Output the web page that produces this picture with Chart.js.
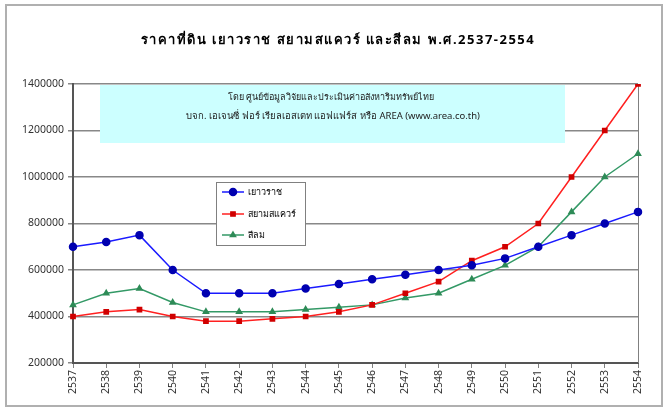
<!DOCTYPE html>
<html>
<head>
<meta charset="utf-8">
<script src="https://cdn.jsdelivr.net/npm/chart.js@4/dist/chart.umd.min.js"></script>
<style>
  html, body { margin: 0; padding: 0; background: #fff; }
  #wrap { width: 665px; height: 409px; }
</style>
</head>
<body>
<div id="wrap"><canvas id="landChart"></canvas></div>
<script>
// years (Thai Buddhist era)
var years = ['2537', '2538', '2539', '2540', '2541', '2542', '2543', '2544', '2545',
             '2546', '2547', '2548', '2549', '2550', '2551', '2552', '2553', '2554'];

// land price, baht per square wah
var yaowarat = [700000, 720000, 750000, 600000, 500000, 500000, 500000, 520000, 540000,
                560000, 580000, 600000, 620000, 650000, 700000, 750000, 800000, 850000];
var siamSquare = [400000, 420000, 430000, 400000, 380000, 380000, 390000, 400000, 420000,
                  450000, 500000, 550000, 640000, 700000, 800000, 1000000, 1200000, 1400000];
var silom = [450000, 500000, 520000, 460000, 420000, 420000, 420000, 430000, 440000,
             450000, 480000, 500000, 560000, 620000, 700000, 850000, 1000000, 1100000];

var seriesNames = ['เยาวราช', 'สยามสแควร์', 'สีลม'];
var yTicks = [200000, 400000, 600000, 800000, 1000000, 1200000, 1400000];

var chartTitle = 'ราคาที่ดิน เยาวราช สยามสแควร์ และสีลม พ.ศ.2537-2554';
var noteLines = [
    'โดย ศูนย์ข้อมูลวิจัยและประเมินค่าอสังหาริมทรัพย์ไทย',
    'บจก. เอเจนซี่ ฟอร์ เรียลเอสเตท แอฟแฟร์ส หรือ AREA (www.area.co.th)'
];

var fontFamily = '"Noto Sans", "DejaVu Sans", sans-serif';

// title, source note, frame and legend drawn on the canvas
var decorations = {
    id: 'decorations',
    beforeDatasetsDraw: function(chart) {
        var ctx = chart.ctx;
        var area = chart.chartArea;
        ctx.save();
        // outer frame
        ctx.strokeStyle = '#b0b0b0';
        ctx.lineWidth = 2;
        ctx.strokeRect(6, 5, 656, 401);
        // right border of plot
        ctx.strokeStyle = '#808080';
        ctx.lineWidth = 1;
        ctx.beginPath();
        ctx.moveTo(area.right + 0.5, area.top);
        ctx.lineTo(area.right + 0.5, area.bottom);
        ctx.stroke();
        // title
        ctx.fillStyle = '#000';
        ctx.font = 'bold 13px ' + fontFamily;
        ctx.letterSpacing = '1.5px';
        ctx.textAlign = 'center';
        ctx.textBaseline = 'middle';
        ctx.fillText(chartTitle, 338, 40);
        ctx.letterSpacing = '0px';
        // source note box
        ctx.fillStyle = '#ccffff';
        ctx.fillRect(100, area.top + 1, 465, 58);
        ctx.fillStyle = '#222';
        ctx.font = '9px ' + fontFamily;
        ctx.fillText(noteLines[0], 331, 97);
        ctx.font = '9.5px ' + fontFamily;
        ctx.fillText(noteLines[1], 333, 116);
        ctx.restore();
    },
    afterDraw: function(chart) {
        var ctx = chart.ctx;
        ctx.save();
        // legend box
        ctx.fillStyle = '#fff';
        ctx.fillRect(216, 182, 89, 63);
        ctx.strokeStyle = '#808080';
        ctx.lineWidth = 1;
        ctx.strokeRect(216.5, 182.5, 89, 63);
        var rows = [192, 214, 235];
        chart.data.datasets.forEach(function(ds, i) {
            var y = rows[i];
            ctx.strokeStyle = ds.borderColor;
            ctx.lineWidth = 1.5;
            ctx.beginPath();
            ctx.moveTo(222, y);
            ctx.lineTo(244, y);
            ctx.stroke();
            ctx.fillStyle = ds.pointBackgroundColor;
            ctx.strokeStyle = ds.pointBorderColor;
            Chart.helpers.drawPoint(ctx, {
                pointStyle: ds.pointStyle,
                radius: ds.pointRadius,
                rotation: 0,
                borderWidth: 1
            }, 233, y);
            ctx.fillStyle = '#000';
            ctx.font = '9px ' + fontFamily;
            ctx.textAlign = 'left';
            ctx.textBaseline = 'middle';
            ctx.fillText(ds.label, 248, y);
        });
        ctx.restore();
    }
};

var ctx = document.getElementById('landChart');
var landChart = new Chart(ctx, {
    type: 'line',
    data: {
        labels: years,
        datasets: [{
            label: seriesNames[0],
            data: yaowarat,
            borderColor: '#1a1aff',
            backgroundColor: '#0000b0',
            pointBackgroundColor: '#0000b0',
            pointBorderColor: '#0000b0',
            pointStyle: 'circle',
            pointRadius: 3.5,
            borderWidth: 1.5
        }, {
            label: seriesNames[1],
            data: siamSquare,
            borderColor: '#ff2020',
            backgroundColor: '#d00000',
            pointBackgroundColor: '#d00000',
            pointBorderColor: '#d00000',
            pointStyle: 'rect',
            pointRadius: 3,
            borderWidth: 1.5
        }, {
            label: seriesNames[2],
            data: silom,
            borderColor: '#339966',
            backgroundColor: '#2e8b57',
            pointBackgroundColor: '#2e8b57',
            pointBorderColor: '#2e8b57',
            pointStyle: 'triangle',
            pointRadius: 3,
            borderWidth: 1.5
        }]
    },
    options: {
        responsive: true,
        maintainAspectRatio: false,
        animation: false,
        layout: { padding: { top: 84, right: 27, bottom: 0, left: 0 } },
        plugins: {
            legend: { display: false },
            title: { display: false },
            tooltip: { enabled: false }
        },
        elements: { line: { tension: 0 } },
        scales: {
            x: {
                offset: false,
                grid: { drawOnChartArea: false, drawTicks: true, tickLength: 5, color: '#808080' },
                border: { color: '#555', width: 2 },
                ticks: {
                    minRotation: 90,
                    maxRotation: 90,
                    color: '#333',
                    font: { size: 10.5, family: fontFamily },
                    padding: 2
                },
                afterFit: function(scale) { scale.height = 46; }
            },
            y: {
                min: 200000,
                max: 1400000,
                afterBuildTicks: function(scale) {
                    scale.ticks = yTicks.map(function(v) { return { value: v }; });
                },
                grid: { color: '#888', lineWidth: 1.5, tickLength: 5 },
                border: { color: '#555', width: 2 },
                ticks: {
                    color: '#333',
                    font: { size: 10.5, family: fontFamily },
                    padding: 4,
                    callback: function(v) { return String(v); }
                },
                afterFit: function(scale) { scale.width = 73; }
            }
        }
    },
    plugins: [decorations]
});
</script>
</body>
</html>
